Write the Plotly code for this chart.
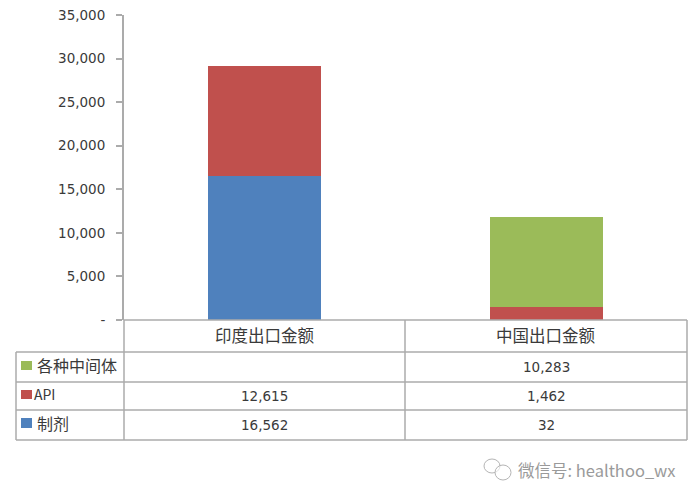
import plotly.graph_objects as go

categories = ["印度出口金额", "中国出口金额"]
series_names = ["制剂", "API", "各种中间体"]
formulation = [16562, 32]
api = [12615, 1462]
intermediates = [None, 10283]
colors = ["#4F81BD", "#C0504D", "#9BBB59"]
tick_vals = [0, 5000, 10000, 15000, 20000, 25000, 30000, 35000]
tick_text = ["-", "5,000", "10,000", "15,000", "20,000", "25,000", "30,000", "35,000"]
watermark = "微信号: healthoo_wx"

W, H = 700, 500
L, R, T, B = 124, 687, 15, 320
GRID = "#ABABAB"
TXT = "#3A3A3A"
NUM = "DejaVu Sans, Verdana, sans-serif"
CJK = "Noto Sans CJK SC, sans-serif"

def px(x):
    return x / W

def py(y):
    return 1 - y / H

fig = go.Figure()
for name, vals, col in zip(series_names, [formulation, api, intermediates], colors):
    fig.add_bar(x=[0, 1], y=vals, name=name, marker=dict(color=col, line_width=0), width=0.4)

shapes = []
def line(x0, y0, x1, y1, color=GRID, w=1.5):
    shapes.append(dict(type="line", xref="paper", yref="paper", x0=px(x0), y0=py(y0), x1=px(x1), y1=py(y1),
                       line=dict(color=color, width=w), layer="above"))

# data table grid
line(L, B, R, B)
for y in [352, 382, 410, 440]:
    line(16, y, R, y)
line(16, 352, 16, 440)
line(L, B, L, 440)
line(405, B, 405, 440)
line(R, B, R, 440)

annotations = []
def text(x, y, s, size, color=TXT, font=CJK, anchor="center", xref="paper"):
    annotations.append(dict(x=x, y=py(y), xref=xref, yref="paper", text=s, showarrow=False,
                            xanchor=anchor, yanchor="middle",
                            font=dict(family=font, size=size, color=color)))

row_y = {"各种中间体": 367, "API": 396, "制剂": 425}
key_y = {"各种中间体": (361, 370), "API": (390, 399), "制剂": (418, 428)}
label_x = {"各种中间体": 35, "API": 32, "制剂": 35}

for i, c in enumerate(categories):
    text(i, 335, c, 16.5, xref="x", font=CJK)

for name, vals, col in zip(series_names, [formulation, api, intermediates], colors):
    y0, y1 = key_y[name]
    shapes.append(dict(type="rect", xref="paper", yref="paper", x0=px(21), x1=px(32), y0=py(y0), y1=py(y1),
                       fillcolor=col, line_width=0))
    text(px(label_x[name]), row_y[name] - 2, name, 16 if name != "API" else 14, anchor="left", font=CJK)
    for i, v in enumerate(vals):
        if v is not None:
            text(i, row_y[name], f"{v:,}", 13.5, xref="x", font=NUM)

# watermark with a small chat-bubble icon
text(px(516), 470, watermark, 16.5, color="#9A9A9A", anchor="left", font=CJK)
for (x0, y0, x1, y1) in [(484, 459, 500, 473), (495, 465, 511, 480)]:
    shapes.append(dict(type="circle", xref="paper", yref="paper", x0=px(x0), x1=px(x1), y0=py(y0), y1=py(y1),
                       line=dict(color="#B5B5B5", width=1), fillcolor="rgba(255,255,255,0.6)"))

fig.update_layout(
    width=W, height=H, barmode="stack", showlegend=False,
    margin=dict(l=0, r=0, t=0, b=0, autoexpand=False), paper_bgcolor="white", plot_bgcolor="white",
    shapes=shapes, annotations=annotations,
    xaxis=dict(domain=[px(L), px(R)], range=[-0.5, 1.5], showticklabels=False, ticks="",
               showgrid=False, zeroline=False, showline=False),
    yaxis=dict(domain=[py(B), py(T)], range=[0, 35000], tickvals=tick_vals, ticktext=tick_text,
               ticks="outside", ticklen=6, tickwidth=1.5, tickcolor=GRID, showline=True, linecolor=GRID, linewidth=2,
               ticklabelstandoff=8,
               showgrid=False, zeroline=False, tickfont=dict(family=NUM, size=13.5, color=TXT)),
)
fig.write_html("out.html", config={"displayModeBar": False},
               post_script="document.body.style.margin='0';document.documentElement.style.overflow='hidden';")
